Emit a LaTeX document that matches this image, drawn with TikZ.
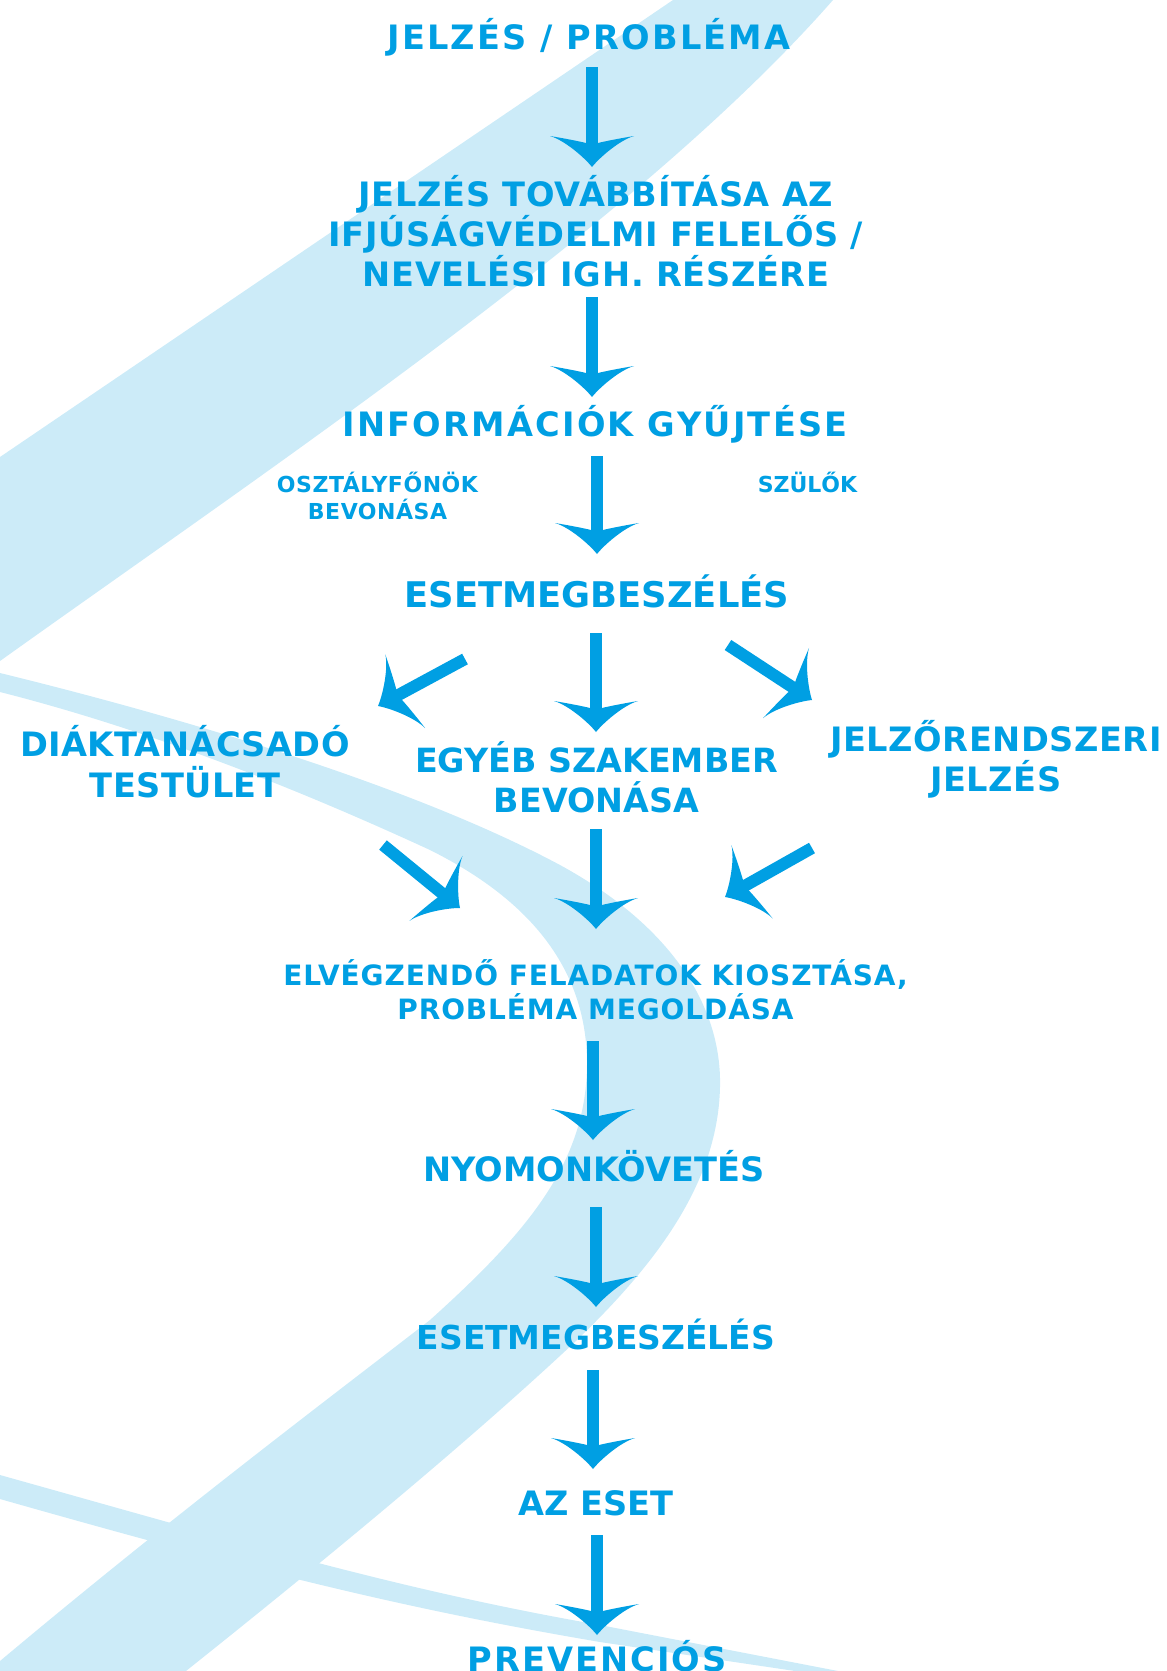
\documentclass[tikz,border=0pt]{standalone}
\usepackage{fontspec}
\setmainfont{DejaVu Sans}
\usepackage{tikz}
\usetikzlibrary{calc}
\definecolor{myblue}{RGB}{0,159,227}
\definecolor{mypaleblue}{RGB}{204,235,248}
\tikzset{every picture/.style={line width=0.75pt}}

% curved arrow head of the flow chart
\pgfdeclarearrow{
  name = Swoop,
  setup code = {
    \pgfarrowssettipend{0pt}
    \pgfarrowssetlineend{-12pt}
    \pgfarrowssetvisualbackend{-23.25pt}
    \pgfarrowssetbackend{-23.25pt}
    \pgfarrowshullpoint{0pt}{0pt}
    \pgfarrowsupperhullpoint{-23.25pt}{31.5pt}
  },
  drawing code = {
    \pgfpathmoveto{\pgfpointorigin}
    \pgfpathcurveto{\pgfpoint{-7.5pt}{6pt}}{\pgfpoint{-20.25pt}{21pt}}{\pgfpoint{-23.25pt}{31.5pt}}
    \pgfpathcurveto{\pgfpoint{-21.75pt}{22.5pt}}{\pgfpoint{-19.5pt}{10.5pt}}{\pgfpoint{-18pt}{4.5pt}}
    \pgfpathlineto{\pgfpoint{-18pt}{-4.5pt}}
    \pgfpathcurveto{\pgfpoint{-19.5pt}{-10.5pt}}{\pgfpoint{-21.75pt}{-22.5pt}}{\pgfpoint{-23.25pt}{-31.5pt}}
    \pgfpathcurveto{\pgfpoint{-20.25pt}{-21pt}}{\pgfpoint{-7.5pt}{-6pt}}{\pgfpointorigin}
    \pgfpathclose
    \pgfusepathqfill
  }
}

\tikzset{
  stage/.style={anchor=south, inner sep=0pt, text depth=0pt, align=center, text=myblue,
    font=\bfseries\fontsize{25.2}{30}\selectfont},
  spaced/.style={font=\bfseries\fontsize{25.2}{30}\selectfont\addfontfeatures{LetterSpace=#1}},
  remark/.style={stage, font=\bfseries\fontsize{16.5}{20.25}\selectfont\addfontfeatures{LetterSpace=2.4}},
  task/.style={stage, font=\bfseries\fontsize{21}{25.5}\selectfont\addfontfeatures{LetterSpace=3.2}},
  flow/.style={color=myblue, line width=9pt, -Swoop},
  band/.style={fill=mypaleblue, draw=none},
}

\begin{document}
\begin{tikzpicture}[x=0.75pt,y=0.75pt,yscale=-1,xscale=1]
\useasboundingbox (0,0) rectangle (1167,1671);

\begin{scope}
\clip (0,0) rectangle (1167,1671);
%Shape: Upper band
\fill[band] (673,0) -- (0,457) -- (0,661) .. controls (280,461) and (640,220) .. (833,0) -- cycle ;
%Shape: Loop of the ribbon
\fill[band] (0,673) .. controls (200,722) and (420,790) .. (560,865)
  .. controls (670,925) and (722,1005) .. (720,1087)
  .. controls (718,1180) and (660,1260) .. (577,1340)
  .. controls (460,1450) and (300,1580) .. (186,1671)
  -- (0,1671) -- (0,1661)
  .. controls (180,1510) and (340,1390) .. (430,1320)
  .. controls (530,1230) and (588,1160) .. (587,1060)
  .. controls (585,960) and (520,895) .. (430,850)
  .. controls (300,790) and (150,730) .. (0,692) -- cycle ;
%Shape: Lower tail
\fill[band] (0,1475) .. controls (250,1545) and (400,1590) .. (600,1625) -- (838,1671)
  -- (795,1671) -- (600,1642) .. controls (400,1608) and (250,1570) .. (0,1499) -- cycle ;
\end{scope}

% Text Node
\node[stage, spaced=6.5] (signal) at (589,50) {JELZÉS / PROBLÉMA};
% Text Node
\node[stage, spaced=2] (forward) at (596,287) {JELZÉS TOVÁBBÍTÁSA AZ\\IFJÚSÁGVÉDELMI FELELŐS /\\NEVELÉSI IGH. RÉSZÉRE};
% Text Node
\node[stage, spaced=6.7] (gather) at (595,437) {INFORMÁCIÓK GYŰJTÉSE};
% Text Node
\node[remark] (tutor) at (377.5,520) {OSZTÁLYFŐNÖK\\BEVONÁSA};
% Text Node
\node[remark, font=\bfseries\fontsize{16.5}{20.25}\selectfont] (parents) at (807.5,493) {SZÜLŐK};
% Text Node
\node[stage, font=\bfseries\fontsize{26.5}{30}\selectfont] (meeting) at (597,608) {ESETMEGBESZÉLÉS};
% Text Node
\node[stage, font=\bfseries\fontsize{25.2}{30.75}\selectfont\addfontfeatures{LetterSpace=1.2}] (board) at (185,798) {DIÁKTANÁCSADÓ\\TESTÜLET};
% Text Node
\node[stage, font=\bfseries\fontsize{25}{30}\selectfont] (expert) at (596.5,813) {EGYÉB SZAKEMBER\\BEVONÁSA};
% Text Node
\node[stage, spaced=1.6] (alert) at (996,792) {JELZŐRENDSZERI\\JELZÉS};
% Text Node
\node[task] (tasks) at (595.5,1020) {ELVÉGZENDŐ FELADATOK KIOSZTÁSA,\\PROBLÉMA MEGOLDÁSA};
% Text Node
\node[stage] (follow) at (594,1182) {NYOMONKÖVETÉS};
% Text Node
\node[stage, font=\bfseries\fontsize{24.7}{30}\selectfont] (review) at (596,1350) {ESETMEGBESZÉLÉS};
% Text Node
\node[stage] (case) at (596,1516) {AZ ESET};
% Text Node
\node[stage, spaced=6] (prevent) at (597,1672) {PREVENCIÓS};

%Straight Lines
\draw[flow] ($(signal.south)+(3,17)$) -- ($(forward.south)+(-4,-120)$) ;
\draw[flow] ($(forward.south)+(-4,10)$) -- ($(gather.south)+(-3,-40)$) ;
\draw[flow] ($(gather.south)+(2,19)$) -- ($(meeting.south)+(0,-54)$) ;
\draw[flow] ($(meeting.south)+(-1,25)$) -- ($(expert.south)+(-0.5,-81)$) ;
\draw[flow] ($(meeting.south)+(-132,51)$) -- ($(board.south)+(193,-92)$) ;
\draw[flow] ($(meeting.south)+(131,37)$) -- ($(alert.south)+(-184,-92)$) ;
\draw[flow] ($(board.south)+(198,47)$) -- ($(tasks.south)+(-135.5,-112)$) ;
\draw[flow] ($(expert.south)+(-0.5,16)$) -- ($(tasks.south)+(0.5,-91)$) ;
\draw[flow] ($(alert.south)+(-184,56)$) -- ($(tasks.south)+(129.5,-123)$) ;
\draw[flow] ($(tasks.south)+(-2.5,21)$) -- ($(follow.south)+(-1,-42)$) ;
\draw[flow] ($(follow.south)+(2,25)$) -- ($(review.south)+(0,-43)$) ;
\draw[flow] ($(review.south)+(-3,20)$) -- ($(case.south)+(-3,-47)$) ;
\draw[flow] ($(case.south)+(1,19)$) -- ($(prevent.south)+(0,-37)$) ;

\end{tikzpicture}
\end{document}
